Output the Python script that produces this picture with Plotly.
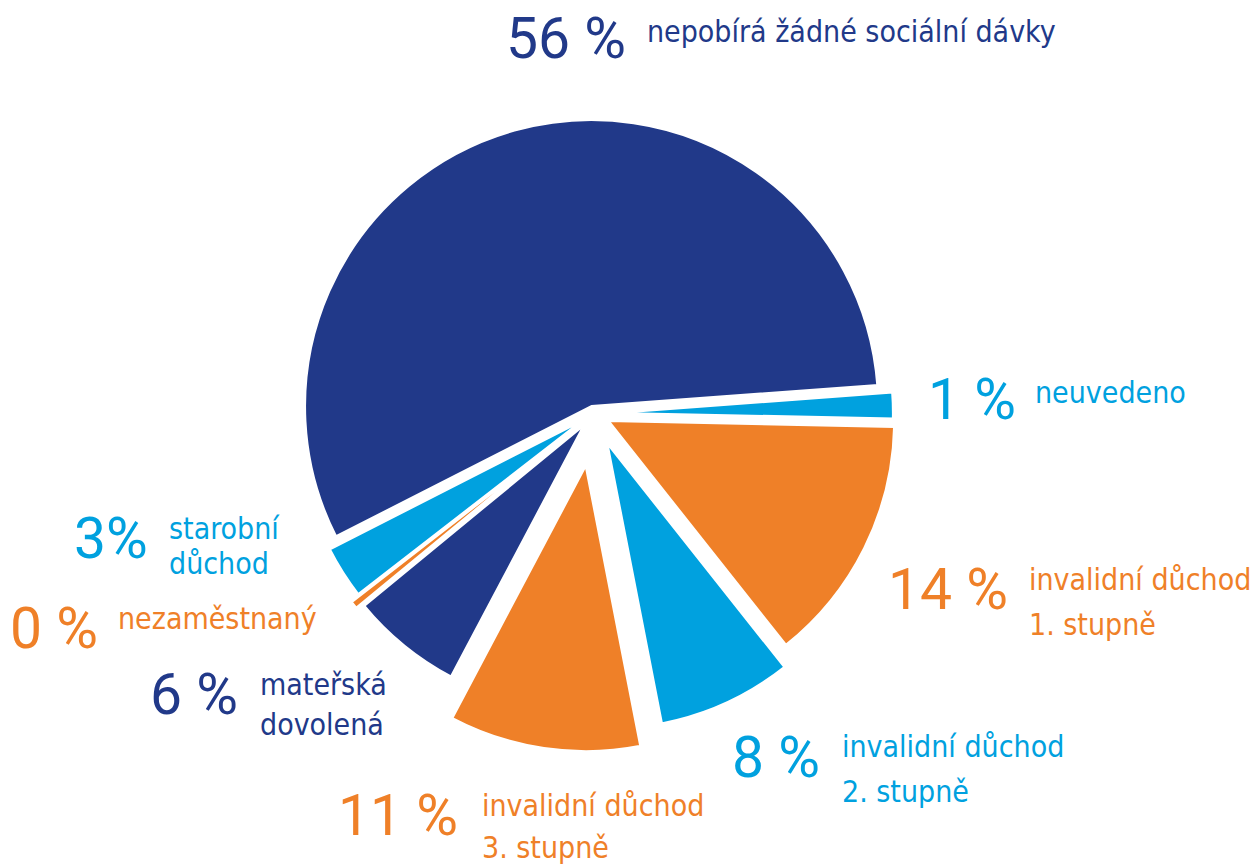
import plotly.graph_objects as go

labels = ["nepobírá žádné sociální dávky", "neuvedeno", "invalidní důchod 1. stupně",
          "invalidní důchod 2. stupně", "invalidní důchod 3. stupně", "mateřská dovolená",
          "nezaměstnaný", "starobní důchod"]
values = [56.3, 1.5, 14, 7.6, 10.8, 6.3, 0.45, 3]
pct_text = ["56 %", "1 %", "14 %", "8 %", "11 %", "6 %", "0 %", "3%"]
label_text = ["nepobírá žádné sociální dávky", "neuvedeno", "invalidní důchod<br>1. stupně",
              "invalidní důchod<br>2. stupně", "invalidní důchod<br>3. stupně", "mateřská<br>dovolená",
              "nezaměstnaný", "starobní<br>důchod"]

DARK = "#213989"
ORANGE = "#ef8028"
LIGHT = "#00a1df"
colors = [DARK, LIGHT, ORANGE, LIGHT, ORANGE, DARK, ORANGE, LIGHT]
pulls = [0.025, 0.045, 0.055, 0.11, 0.18, 0.045, 0.07, 0.035]

W, H = 1251, 866
cx, cy = 593.5, 413.5
r = 287
half = r * (1 + max(pulls))

fig = go.Figure(go.Pie(
    labels=labels, values=values, sort=False, direction="clockwise", rotation=-117,
    marker=dict(colors=colors, line=dict(color="white", width=3)),
    pull=pulls, textinfo="none", hoverinfo="label+percent", showlegend=False,
    domain=dict(x=[(cx - half) / W, (cx + half) / W],
                y=[(H - cy - half) / H, (H - cy + half) / H]),
))

NUM_FONT = "Roboto, sans-serif"
LBL_FONT = "DejaVu Sans Condensed, Roboto, sans-serif"
# number: (right edge x, digit center y); label: (left x, [line anchor y ...])
num_pos = [(628, 39), (1018, 400), (1010, 589.5), (822, 757.5), (460, 815.5),
           (240, 694), (100, 628.5), (150, 538.5)]
lbl_pos = [(645, [31.6]), (1033, [392.6]), (1027, [579.6, 624.6]), (840, [746.6, 791.6]),
           (480, [805.6, 847.6]), (258, [684.6, 724.6]), (116, [618.6]), (167, [528.6, 563.6])]

annotations = []
for i in range(len(values)):
    nx, ny = num_pos[i]
    annotations.append(dict(x=nx / W, y=1 - ny / H, xref="paper", yref="paper",
                            xanchor="right", yanchor="middle", showarrow=False,
                            text=pct_text[i], font=dict(family=NUM_FONT, size=57, color=colors[i])))
    lx, lys = lbl_pos[i]
    for line, ly in zip(label_text[i].split("<br>"), lys):
        annotations.append(dict(x=lx / W, y=1 - ly / H, xref="paper", yref="paper",
                                xanchor="left", yanchor="middle", align="left", showarrow=False,
                                text=line, font=dict(family=LBL_FONT, size=30, color=colors[i])))

fig.update_layout(width=W, height=H, margin=dict(l=0, r=0, t=0, b=0),
                  paper_bgcolor="white", plot_bgcolor="white", annotations=annotations)
fig.write_html("out.html", config={"displayModeBar": False},
               post_script="document.body.style.margin='0';document.body.style.padding='0';")
